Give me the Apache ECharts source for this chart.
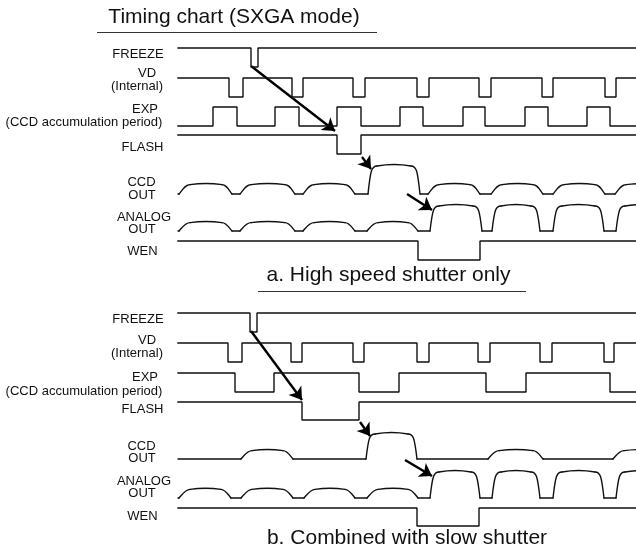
<!DOCTYPE html>
<html><head><meta charset="utf-8">
<script src="https://cdn.jsdelivr.net/npm/echarts@6/dist/echarts.min.js"></script>
<style>html,body{margin:0;padding:0;background:#fff}#c{width:636px;height:550px}</style>
</head><body><div id="c"></div>
<script>
// ---------- data (time axis in arbitrary units) ----------
const T_START = 178, T_END = 636;

// Panel a: digital signals -> [initial level, transition times]
const freezeA_init = 1, freezeA_edges = [251, 258];
const vdA_init = 1, vdA_edges = [229,243, 292,303, 353,365, 417,429, 479,491, 542,553, 605,616];
const expA_init = 0, expA_edges = [213,237, 275,299, 337,361, 400,423, 463,485, 525,548, 587,610];
const flashA_init = 1, flashA_edges = [337, 361];
const wenA_init = 1, wenA_edges = [418, 480];
// Panel a: analog bumps -> [start, end, level(1 small / 3 big)]
const ccdA = [[179,232,1],[240,295,1],[303,355,1],[368,420,3],[428,480,1],[491,543,1],[553,605,1],[615,668,1]];
const analogA = [[179,232,1],[240,295,1],[303,355,1],[367,418,1],[430,482,3],[492,540,3],[553,604,3],[616,668,3]];

// Panel b
const freezeB_init = 1, freezeB_edges = [250, 257];
const vdB_init = 1, vdB_edges = [228,242, 291,302, 353,364, 417,429, 478,490, 540,552, 604,614];
const expB_init = 1, expB_edges = [235,274, 359,399, 486,526, 610];
const flashB_init = 1, flashB_edges = [302, 359];
const wenB_init = 1, wenB_edges = [417, 479];
const ccdB = [[241,293,1],[366,417,3],[488,543,1],[613,668,1]];
const analogB = [[179,231,1],[241,293,1],[304,355,1],[367,418,1],[430,480,3],[492,540,3],[553,604,3],[616,668,3]];

// Arrows (overlay coordinates)
const arrowsA = [[[251,66],[335,131]], [[362,157],[371,169]], [[407,194],[432,210]]];
const arrowsB = [[[251,331],[302,400]], [[360,422],[370,436]], [[405,460],[432,476]]];

// Texts
const titleText = 'Timing chart (SXGA mode)';
const subA = 'a. High speed shutter only';
const subB = 'b. Combined with slow shutter';
const labelTexts = ['FREEZE','VD','(Internal)','EXP','(CCD accumulation period)','FLASH','CCD','OUT','ANALOG','OUT','WEN'];

// ---------- layout ----------
const labelX = [138,147,137,145,84,142.5,141.5,142,144,142,142.5];
const labelYA = [54,73.5,86.7,109.5,122.8,147.5,182.5,195.5,217.5,229.5,251.5];
const labelYB = [319,340.8,353,377.3,391,409.5,446.2,458.5,481,493.3,516.2];

const INK = '#111', LW = 1.4;

function digital(init, edges){
  let lvl = init; const pts = [[T_START, lvl]];
  edges.forEach(t => { pts.push([t, lvl]); lvl = 1 - lvl; pts.push([t, lvl]); });
  pts.push([T_END, lvl]);
  return pts;
}

const grids=[], xAxes=[], yAxes=[], series=[];
function addGrid(top, h, ymax){
  const i = grids.length;
  grids.push({left:0, right:0, top:top, height:h});
  xAxes.push({type:'value', gridIndex:i, min:0, max:636, show:false});
  yAxes.push({type:'value', gridIndex:i, min:0, max:ymax, show:false});
  return i;
}
function addDigital(top, h, init, edges){
  const i = addGrid(top, h, 1);
  series.push({type:'line', xAxisIndex:i, yAxisIndex:i, data:digital(init, edges), symbol:'none', showSymbol:false,
    clip:false, lineStyle:{color:INK, width:LW, cap:'square'}, silent:true});
}
function addAnalog(top, h, bumps){
  const i = addGrid(top, h, 3);
  series.push({type:'custom', xAxisIndex:i, yAxisIndex:i, data:bumps, clip:false, silent:true,
    renderItem: function(params, api){
      const k = params.dataIndex;
      const s = api.value(0), e = api.value(1), l = api.value(2);
      const big = l > 1;
      const r = big ? 9 : 11, f = big ? 9 : 10;
      const A = api.coord([s,0]), B = api.coord([s+r,l]), C = api.coord([e-f,l]), D = api.coord([e,0]);
      const h = A[1]-B[1];
      const a = big ? 0.28 : 0.38, b = big ? 0.85 : 0.55, c = big ? 0.4 : 0.6;
      const arch = big ? 2 : 1.5;
      const st = {fill:null, stroke:INK, lineWidth:LW, lineCap:'round'};
      const ch = [];
      const prevEnd = k === 0 ? Math.min(s, T_START) : bumps[k-1][1];
      const P = api.coord([prevEnd,0]);
      if (A[0] - P[0] > 0.5) ch.push({type:'line', shape:{x1:P[0],y1:P[1],x2:A[0],y2:A[1]}, style:st});
      ch.push({type:'bezierCurve', shape:{x1:A[0],y1:A[1], cpx1:A[0]+a*(B[0]-A[0]), cpy1:A[1]-b*h,
        cpx2:A[0]+c*(B[0]-A[0]), cpy2:B[1], x2:B[0], y2:B[1]}, style:st});
      const w = C[0]-B[0];
      ch.push({type:'bezierCurve', shape:{x1:B[0],y1:B[1], cpx1:B[0]+w/3, cpy1:B[1]-arch,
        cpx2:C[0]-w/3, cpy2:C[1]-arch, x2:C[0], y2:C[1]}, style:st});
      ch.push({type:'bezierCurve', shape:{x1:C[0],y1:C[1], cpx1:D[0]-c*(D[0]-C[0]), cpy1:C[1],
        cpx2:D[0]-a*(D[0]-C[0]), cpy2:D[1]-b*h, x2:D[0], y2:D[1]}, style:st});
      if (k === bumps.length-1 && e < T_END){
        const Z = api.coord([T_END,0]);
        ch.push({type:'line', shape:{x1:D[0],y1:D[1],x2:Z[0],y2:Z[1]}, style:st});
      }
      return {type:'group', children:ch};
    }});
}
// panel a
addDigital(48, 19, freezeA_init, freezeA_edges);
addDigital(78, 19, vdA_init, vdA_edges);
addDigital(107, 19, expA_init, expA_edges);
addDigital(135, 19, flashA_init, flashA_edges);
addAnalog(166, 28, ccdA);
addAnalog(206, 25, analogA);
addDigital(241, 19, wenA_init, wenA_edges);
// panel b
addDigital(313, 19, freezeB_init, freezeB_edges);
addDigital(343, 19, vdB_init, vdB_edges);
addDigital(373, 19, expB_init, expB_edges);
addDigital(402, 18, flashB_init, flashB_edges);
addAnalog(434, 25, ccdB);
addAnalog(472, 26, analogB);
addDigital(508, 18, wenB_init, wenB_edges);

// overlay for arrows
const oi = grids.length;
grids.push({left:0, right:0, top:0, bottom:0});
xAxes.push({type:'value', gridIndex:oi, min:0, max:636, show:false});
yAxes.push({type:'value', gridIndex:oi, min:0, max:550, inverse:true, show:false});
series.push({type:'lines', coordinateSystem:'cartesian2d', xAxisIndex:oi, yAxisIndex:oi,
  symbol:['none','arrow'], symbolSize:[9,12], silent:true,
  lineStyle:{color:'#000', width:2.4, opacity:1},
  data: arrowsA.concat(arrowsB).map(a => ({coords:a}))});

const FONT = '"Liberation Sans", Arial, sans-serif';
const graphic = [];
function txt(t, x, y, size){
  graphic.push({type:'text', x:x, y:y, silent:true,
    style:{text:t, font:size+'px '+FONT, fill:INK, align:'center', verticalAlign:'middle'}});
}
function hline(x1,x2,y){
  graphic.push({type:'line', silent:true, shape:{x1:x1,y1:y,x2:x2,y2:y}, style:{stroke:'#333', lineWidth:1}});
}
txt(titleText, 234, 17, 21); hline(97, 377, 32.5);
txt(subA, 388.5, 275, 21); hline(258, 526, 291.5);
txt(subB, 407, 538.5, 21);
labelTexts.forEach((t,k) => { txt(t, labelX[k], labelYA[k], 13); txt(t, labelX[k], labelYB[k], 13); });

const chart = echarts.init(document.getElementById('c'), null, {renderer:'canvas'});
chart.setOption({animation:false, backgroundColor:'#fff', grid:grids, xAxis:xAxes, yAxis:yAxes, series:series, graphic:graphic});
</script></body></html>
